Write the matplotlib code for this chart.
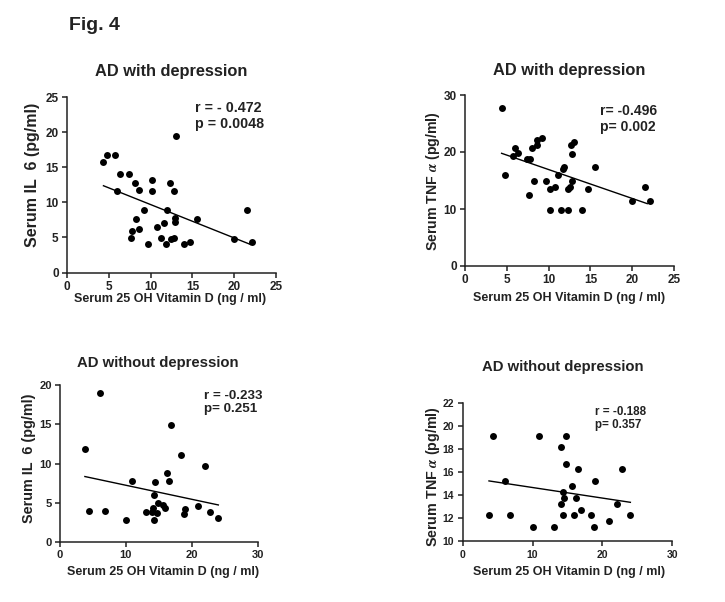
import matplotlib
matplotlib.use('Agg')
import matplotlib.pyplot as plt

plt.rcParams['font.family'] = ['Liberation Sans', 'DejaVu Sans']
plt.rcParams['font.weight'] = 'bold'
plt.rcParams['mathtext.fontset'] = 'stix'

W, H = 725, 602

# ---------------- data ----------------
# Panel A: IL-6 vs vitamin D, AD with depression
il6_dep_vitd = [4.36, 4.8, 5.8, 6.0, 6.36, 7.4, 8.12, 8.6, 8.2, 7.76, 7.68, 8.6, 9.24, 9.72,
                10.2, 10.2, 10.8, 11.2, 11.56, 11.88, 11.96, 12.32, 12.8, 12.4, 12.84, 12.88,
                12.96, 13.08, 14.0, 14.76, 15.6, 20.0, 21.56, 22.16]
il6_dep_val = [15.78, 16.68, 16.68, 11.6, 14.07, 14.07, 12.79, 11.74, 7.65, 5.89, 4.94, 6.13,
               8.84, 4.09, 13.12, 11.6, 6.51, 4.94, 7.03, 4.09, 8.84, 12.79, 11.6, 4.8, 4.94,
               7.18, 7.75, 19.44, 4.09, 4.37, 7.65, 4.71, 8.84, 4.37]
il6_dep_fit_x = [4.36, 21.96]
il6_dep_fit_y = [12.36, 3.99]

# Panel B: TNF-alpha vs vitamin D, AD with depression
tnf_dep_vitd = [4.38, 4.82, 5.94, 5.74, 6.37, 7.37, 7.81, 7.69, 8.21, 8.05, 8.61, 8.61, 9.2,
                9.68, 10.12, 10.12, 10.8, 11.16, 11.47, 11.75, 11.87, 12.27, 12.35, 12.59,
                12.75, 12.71, 13.03, 12.83, 13.98, 14.66, 15.58, 19.96, 21.51, 22.07]
tnf_dep_val = [27.66, 15.9, 20.7, 19.24, 19.88, 18.83, 18.83, 12.46, 14.91, 20.7, 21.29, 22.1,
               22.51, 14.91, 13.45, 9.77, 13.92, 15.9, 9.77, 16.96, 17.31, 9.77, 13.45, 13.92,
               19.71, 21.23, 21.7, 14.91, 9.77, 13.45, 17.37, 11.4, 13.92, 11.4]
tnf_dep_fit_x = [4.38, 21.8]
tnf_dep_fit_y = [19.77, 10.94]

# Panel C: IL-6 vs vitamin D, AD without depression
il6_nodep_vitd = [3.78, 6.1, 4.34, 6.76, 9.98, 10.89, 13.0, 14.02, 14.17, 14.27, 14.27, 14.37,
                  14.83, 14.78, 15.63, 15.89, 16.19, 16.59, 16.89, 18.41, 18.86, 19.01, 20.93,
                  22.04, 22.84, 23.95]
il6_nodep_val = [11.83, 18.94, 4.0, 4.0, 2.77, 7.83, 3.79, 3.79, 4.34, 2.77, 5.96, 7.66, 4.98,
                 3.74, 4.72, 4.38, 8.85, 7.83, 14.85, 11.02, 3.57, 4.17, 4.6, 9.7, 3.79, 3.06]
il6_nodep_fit_x = [3.78, 24.05]
il6_nodep_fit_y = [8.34, 4.72]

# Panel D: TNF-alpha vs vitamin D, AD without depression
tnf_nodep_vitd = [4.38, 3.76, 6.05, 6.76, 10.05, 10.9, 13.0, 14.0, 14.76, 14.81, 14.1, 14.33,
                  14.43, 14.33, 15.67, 15.86, 16.19, 16.57, 16.9, 18.43, 18.86, 19.0, 20.9,
                  22.05, 22.86, 23.9]
tnf_nodep_val = [19.19, 12.26, 15.25, 12.26, 11.22, 19.19, 11.22, 18.17, 19.19, 16.75, 13.25,
                 14.26, 13.74, 12.26, 14.78, 12.26, 13.74, 16.29, 12.72, 12.26, 11.22, 15.25,
                 11.74, 13.25, 16.29, 12.26]
tnf_nodep_fit_x = [3.76, 24.0]
tnf_nodep_fit_y = [15.25, 13.39]

titles = ["AD with depression", "AD with depression",
          "AD without depression", "AD without depression"]
xlabel = "Serum 25 OH Vitamin D (ng / ml)"
ylabels = ["Serum IL  6 (pg/ml)", r"Serum TNF $\alpha$ (pg/ml)",
           "Serum IL  6 (pg/ml)", r"Serum TNF $\alpha$ (pg/ml)"]
stats = ["r = - 0.472\np = 0.0048", "r= -0.496\np= 0.002",
         "r = -0.233\np= 0.251", "r = -0.188\np= 0.357"]

# ---------------- figure ----------------
fig = plt.figure(figsize=(W / 100, H / 100), dpi=100)
fig.patch.set_facecolor('white')


def rect(l, t, r, b):
    return [l / W, 1 - b / H, (r - l) / W, (b - t) / H]


def px(x, y):
    return x / W, 1 - y / H


panels = [
    dict(rect=rect(67, 97, 276, 272.5), x=il6_dep_vitd, y=il6_dep_val,
         fx=il6_dep_fit_x, fy=il6_dep_fit_y, xlim=(0, 25), ylim=(0, 25),
         xt=[0, 5, 10, 15, 20, 25], yt=[0, 5, 10, 15, 20, 25],
         title=(171, 76), ttfs=11.8, xl=(170.5, 302), yl=(33, 175),
         st=(23.6, 24.4), ha='right', sfs=10.3, tfs=8.5, yfs=11.5, xfs=9),
    dict(rect=rect(465, 95, 674, 266), x=tnf_dep_vitd, y=tnf_dep_val,
         fx=tnf_dep_fit_x, fy=tnf_dep_fit_y, xlim=(0, 25), ylim=(0, 30),
         xt=[0, 5, 10, 15, 20, 25], yt=[0, 10, 20, 30],
         title=(569, 75), ttfs=11.8, xl=(569, 301.5), yl=(433, 181),
         st=(23.0, 28.4), ha='right', sfs=10, tfs=8.5, yfs=10.2, xfs=9),
    dict(rect=rect(60, 385, 257.5, 542), x=il6_nodep_vitd, y=il6_nodep_val,
         fx=il6_nodep_fit_x, fy=il6_nodep_fit_y, xlim=(0, 30), ylim=(0, 20),
         xt=[0, 10, 20, 30], yt=[0, 5, 10, 15, 20],
         title=(158, 366.5), ttfs=10.7, xl=(163, 575), yl=(29, 458),
         st=(21.8, 19.4), ha='left', sfs=9.6, tfs=8, yfs=10.4, xfs=9),
    dict(rect=rect(462.7, 403.3, 672.3, 541.3), x=tnf_nodep_vitd, y=tnf_nodep_val,
         fx=tnf_nodep_fit_x, fy=tnf_nodep_fit_y, xlim=(0, 30), ylim=(10, 22),
         xt=[0, 10, 20, 30], yt=[10, 12, 14, 16, 18, 20, 22],
         title=(563, 371.5), ttfs=10.7, xl=(569, 575), yl=(433, 476.7),
         st=(18.94, 21.8), ha='left', sfs=8.4, tfs=7.5, yfs=10.3, xfs=9),
]

for i, p in enumerate(panels):
    ax = fig.add_axes(p['rect'])
    ax.plot(p['x'], p['y'], 'o', color='black', markersize=5.0, markeredgewidth=0,
            clip_on=False, zorder=3)
    ax.plot(p['fx'], p['fy'], '-', color='black', linewidth=1.0, zorder=2)
    ax.set_xlim(*p['xlim'])
    ax.set_ylim(*p['ylim'])
    ax.set_xticks(p['xt'])
    ax.set_yticks(p['yt'])
    for s in ['top', 'right']:
        ax.spines[s].set_visible(False)
    for s in ['left', 'bottom']:
        ax.spines[s].set_linewidth(1.1)
        ax.spines[s].set_color('#222222')
    ax.tick_params(axis='both', direction='out', length=3.5, width=1.1, pad=2.5,
                   labelsize=p['tfs'], colors='#222222')
    for lab in ax.get_xticklabels() + ax.get_yticklabels():
        lab.set_fontweight('bold')
    ax.text(p['st'][0], p['st'][1], stats[i], ha=p['ha'], va='top',
            multialignment='left', fontsize=p['sfs'], fontweight='bold',
            linespacing=1.15, color='#222222')
    # title
    tx, ty = px(*p['title'])
    fig.text(tx, ty, titles[i], ha='center', va='baseline', fontsize=p['ttfs'],
             fontweight='bold', color='#222222')
    # x label
    lx, ly = px(*p['xl'])
    fig.text(lx, ly, xlabel, ha='center', va='baseline', fontsize=p['xfs'],
             fontweight='bold', color='#222222')
    # y label
    yx, yy = px(*p['yl'])
    fig.text(yx, yy, ylabels[i], ha='center', va='center', rotation=90,
             fontsize=p['yfs'], fontweight='bold', color='#222222')

fx_, fy_ = px(69, 30)
fig.text(fx_, fy_, "Fig. 4", ha='left', va='baseline', fontsize=14,
         fontweight='bold', color='#222222')

fig.savefig('out.png', dpi=100, facecolor='white')
